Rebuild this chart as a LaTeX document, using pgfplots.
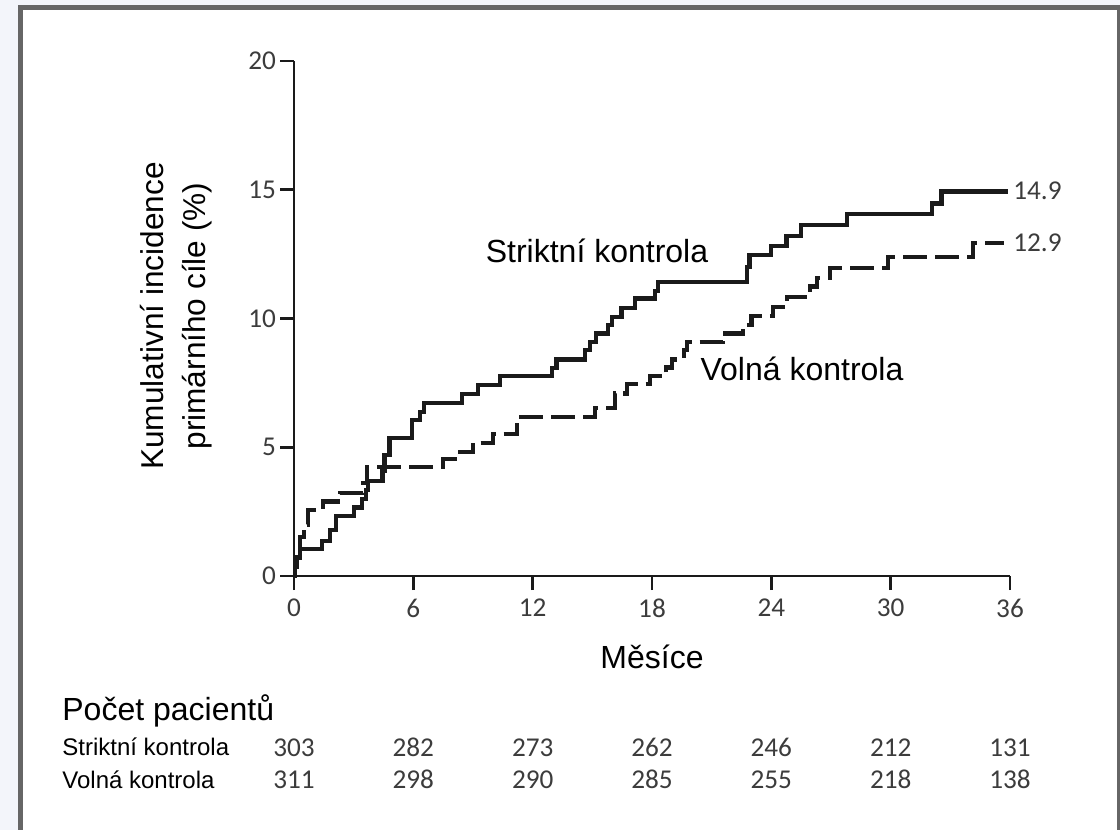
\documentclass[border=0pt]{standalone}
\usepackage{fontspec}
\setmainfont{Liberation Sans}
\newfontfamily\tickfont{Carlito}
\usepackage{pgfplots}
\pgfplotsset{compat=1.18}
\definecolor{bgstrip}{HTML}{F3F5FA}
\definecolor{framegray}{HTML}{666666}
\definecolor{tickgray}{HTML}{3C3C3C}
\definecolor{curve}{HTML}{1A1A1A}
\begin{document}
\begin{tikzpicture}[x=0.5pt,y=-0.5pt]
\useasboundingbox (0,0) rectangle (1120,830);
\fill[bgstrip] (0,0) rectangle (1120,830);
\filldraw[fill=white,draw=framegray,line width=2.5pt] (20.5,7.5) rectangle (1119.5,900);
\begin{axis}[
  at={(147pt,-288pt)}, anchor=south west,
  scale only axis, width=358pt, height=257.5pt,
  xmin=0, xmax=36, ymin=0, ymax=20,
  axis lines=left,
  axis line style={-, line width=1.3pt, color=curve},
  xtick={0,6,12,18,24,30,36},
  ytick={0,5,10,15,20},
  tick align=outside,
  major tick length=7pt,
  tick style={line width=1.3pt, color=curve},
  /pgf/number format/assume math mode=true,
  ticklabel style={font=\tickfont\fontsize{13.6}{15}\selectfont, text=tickgray},
  xticklabel style={yshift=-1pt},
  yticklabel style={xshift=1.5pt},
  clip=false,
]
\addplot[const plot, line width=2.1pt, color=curve] coordinates {
(0,0) (0.05,0.35) (0.15,0.7) (0.3,1.05) (1.4,1.37) (1.82,1.8) (2.12,2.33)
(3.0,2.66) (3.42,3.0) (3.62,3.35) (3.72,3.7) (4.45,4.1) (4.55,4.7) (4.8,5.35)
(5.92,6.06) (6.33,6.38) (6.54,6.73) (8.43,7.07) (9.25,7.42) (10.36,7.77)
(12.96,8.08) (13.2,8.41) (14.63,8.78) (14.9,9.1) (15.2,9.42) (15.8,9.75)
(15.97,10.07) (16.47,10.42) (17.14,10.78) (18.15,11.06) (18.3,11.41)
(22.76,12.0) (22.9,12.47) (24.0,12.82) (24.76,13.2) (25.5,13.63)
(27.8,14.06) (32.06,14.47) (32.56,14.93) (35.9,14.93)
};
\addplot[const plot, line width=2.1pt, color=curve, dash pattern=on 12pt off 4pt] coordinates {
(0,0) (0.05,0.5) (0.15,1.0) (0.3,1.5) (0.5,2.0) (0.7,2.56) (1.45,2.89)
(2.3,3.22) (3.45,3.6) (3.68,4.23) (7.5,4.54) (8.34,4.83) (9.0,5.18)
(10.0,5.53) (11.2,6.16) (15.13,6.51) (16.14,7.09) (16.73,7.47) (17.9,7.76)
(18.72,8.1) (19.0,8.41) (19.6,8.78) (19.74,9.1) (21.57,9.42) (22.57,9.75)
(23.0,10.1) (24.1,10.46) (24.77,10.85) (25.94,11.24) (26.28,11.56)
(26.95,11.95) (29.88,12.38) (34.15,12.92) (35.7,12.92)
};
\node[anchor=west, font=\tickfont\fontsize{13.6}{15}\selectfont, text=tickgray, inner sep=0pt] at (axis cs:36.15,14.95) {14.9};
\node[anchor=west, font=\tickfont\fontsize{13.6}{15}\selectfont, text=tickgray, inner sep=0pt] at (axis cs:36.15,12.95) {12.9};
\end{axis}
% curve labels
\node[anchor=base, font=\fontsize{16}{19}\selectfont, inner sep=0pt] at (597,262) {Striktní kontrola};
\node[anchor=base, font=\fontsize{16}{19}\selectfont, inner sep=0pt] at (802,380) {Volná kontrola};
% axis labels
\node[rotate=90, align=center, font=\fontsize{15.8}{21}\selectfont, inner sep=0pt] at (176,316) {Kumulativní incidence\\primárního cíle (\%)};
\node[anchor=base, font=\fontsize{16}{19}\selectfont, inner sep=0pt] at (652,668) {Měsíce};
% number at risk
\node[anchor=base west, font=\fontsize{16}{19}\selectfont, inner sep=0pt] at (62,720) {Počet pacientů};
\node[anchor=base west, font=\fontsize{12}{14}\selectfont, inner sep=0pt] at (62,755) {Striktní kontrola};
\node[anchor=base west, font=\fontsize{12}{14}\selectfont, inner sep=0pt] at (62,788) {Volná kontrola};
\foreach \xx/\a/\b in {294/303/311, 413.3/282/298, 532.7/273/290, 652/262/285, 771.3/246/255, 890.7/212/218, 1010/131/138}{
  \node[anchor=base, font=\tickfont\fontsize{13.6}{15}\selectfont, text=tickgray, inner sep=0pt] at (\xx,756) {\a};
  \node[anchor=base, font=\tickfont\fontsize{13.6}{15}\selectfont, text=tickgray, inner sep=0pt] at (\xx,788) {\b};
}
\end{tikzpicture}
\end{document}
